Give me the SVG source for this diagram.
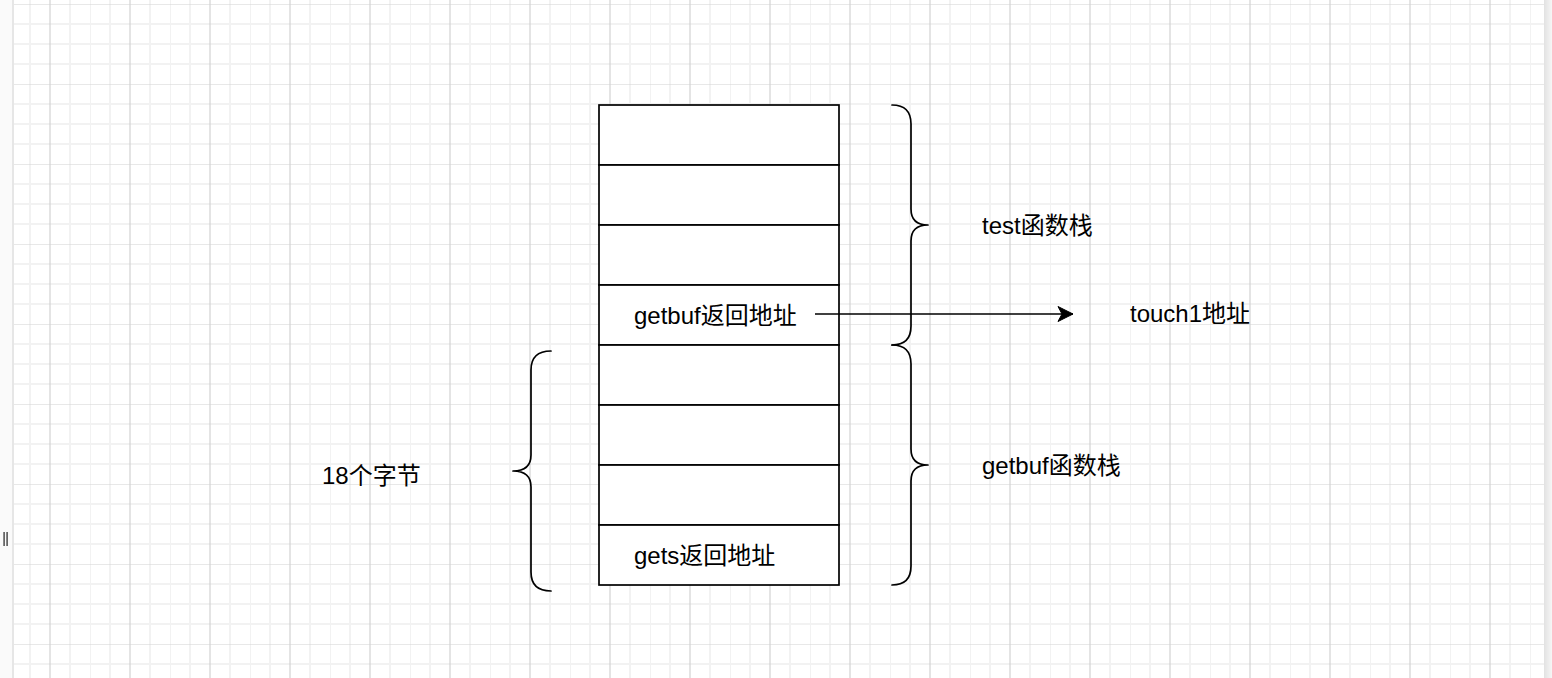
<svg xmlns="http://www.w3.org/2000/svg" width="1552" height="678" viewBox="0 0 1552 678">
  <style>
    .cell { fill: #ffffff; stroke: #000000; stroke-width: 1.7; }
    .brace { fill: none; stroke: #000000; stroke-width: 1.7; stroke-linecap: round; stroke-linejoin: round; }
    .lbl { font-family: "Liberation Sans", "Noto Sans CJK SC", sans-serif; font-size: 24px; fill: #000000; }
    .conn { fill: none; stroke: #000000; stroke-width: 1.7; }
  </style>
  <defs>
    <pattern id="grid" patternUnits="userSpaceOnUse" x="10" y="4" width="80" height="80">
      <rect width="80" height="80" fill="#ffffff"/>
      <g stroke="#f2f2f2" stroke-width="2">
        <line x1="0" y1="0" x2="0" y2="80"/>
        <line x1="20" y1="0" x2="20" y2="80"/>
        <line x1="60" y1="0" x2="60" y2="80"/>
        <line x1="0" y1="20" x2="80" y2="20"/>
        <line x1="0" y1="40" x2="80" y2="40"/>
        <line x1="0" y1="60" x2="80" y2="60"/>
      </g>
      <g stroke="#d2d2d2" stroke-width="1.2">
        <line x1="40" y1="0" x2="40" y2="80"/>
        <line x1="0" y1="0" x2="80" y2="0"/>
      </g>
    </pattern>
    <linearGradient id="handle" x1="0" y1="0" x2="1" y2="0">
      <stop offset="0" stop-color="#999999"/>
      <stop offset="1" stop-color="#555555"/>
    </linearGradient>
    <linearGradient id="rside" x1="0" y1="0" x2="1" y2="0">
      <stop offset="0" stop-color="#e2e2e2"/>
      <stop offset="1" stop-color="#f6f6f6"/>
    </linearGradient>
    <marker id="arrow" markerUnits="userSpaceOnUse" markerWidth="18" markerHeight="18" viewBox="0 0 18 18" refX="16" refY="9" orient="auto">
      <path d="M1,1.5 L16,9 L1,16.5 L5,9 Z" fill="#000000" stroke="#000000" stroke-width="1"/>
    </marker>
  </defs>

  <!-- background / canvas -->
  <g id="background">
    <rect x="0" y="0" width="1552" height="678" fill="#ffffff"/>
    <rect x="14" y="0" width="1530" height="678" fill="url(#grid)"/>
    <rect x="0" y="0" width="12" height="678" fill="#fafafa"/>
    <rect x="12" y="0" width="2" height="678" fill="#e6e6e6"/>
    <rect x="3" y="532" width="2" height="14" fill="url(#handle)"/>
    <rect x="6" y="532" width="2" height="14" fill="url(#handle)"/>
    <rect x="1544" y="0" width="8" height="678" fill="url(#rside)"/>
  </g>

  <!-- stack cells -->
  <g id="cell1"><rect class="cell" x="599" y="105" width="240" height="60"/></g>
  <g id="cell2"><rect class="cell" x="599" y="165" width="240" height="60"/></g>
  <g id="cell3"><rect class="cell" x="599" y="225" width="240" height="60"/></g>
  <g id="cell4">
    <rect class="cell" x="599" y="285" width="240" height="60"/>
    <text class="lbl" x="634" y="324">getbuf返回地址</text>
  </g>
  <g id="cell5"><rect class="cell" x="599" y="345" width="240" height="60"/></g>
  <g id="cell6"><rect class="cell" x="599" y="405" width="240" height="60"/></g>
  <g id="cell7"><rect class="cell" x="599" y="465" width="240" height="60"/></g>
  <g id="cell8">
    <rect class="cell" x="599" y="525" width="240" height="60"/>
    <text class="lbl" x="634" y="564">gets返回地址</text>
  </g>

  <!-- braces -->
  <g id="brace-test">
    <path class="brace" d="M892,105 Q911,105 911,124 L911,209 Q911,225 928,225 Q911,225 911,241 L911,326 Q911,345 892,345"/>
  </g>
  <g id="brace-getbuf">
    <path class="brace" d="M892,345 Q911,345 911,364 L911,449 Q911,465 928,465 Q911,465 911,481 L911,566 Q911,585 892,585"/>
  </g>
  <g id="brace-bytes">
    <path class="brace" d="M551,351 Q531,351 531,370 L531,455 Q531,471 513,471 Q531,471 531,487 L531,572 Q531,591 551,591"/>
  </g>

  <!-- labels -->
  <g id="label-test"><text class="lbl" x="982" y="234">test函数栈</text></g>
  <g id="label-getbuf"><text class="lbl" x="982" y="474">getbuf函数栈</text></g>
  <g id="label-touch1"><text class="lbl" x="1130" y="322">touch1地址</text></g>
  <g id="label-bytes"><text class="lbl" x="322" y="484">18个字节</text></g>

  <!-- connectors -->
  <g id="connectors">
    <line class="conn" x1="815" y1="314" x2="1073" y2="314" marker-end="url(#arrow)"/>
  </g>
</svg>
